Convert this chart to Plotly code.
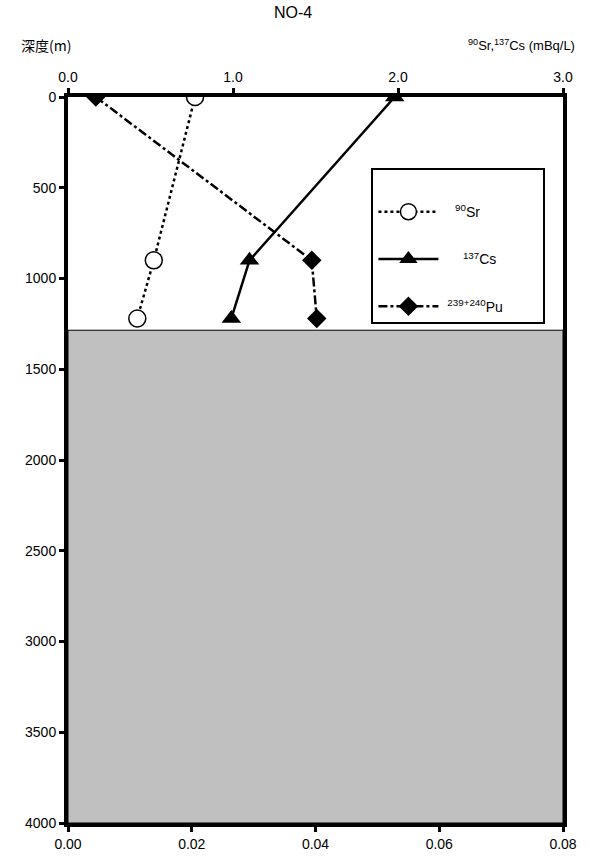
import plotly.graph_objects as go

# ---- data ----
depth = [0, 900, 1220]
sr90 = [0.77, 0.52, 0.42]          # mBq/L (top axis)
cs137 = [1.98, 1.10, 0.99]         # mBq/L (top axis)
pu_depth = [0, 900, 1220]
pu239 = [0.0045, 0.0394, 0.0402]   # mBq/L (bottom axis)
seafloor_depth = 1285
max_depth = 4000
top_ticks = [0, 1, 2, 3]
bottom_ticks = [0, 0.02, 0.04, 0.06, 0.08]
depth_ticks = list(range(0, 4001, 500))

FONT = "Liberation Sans, Arial, sans-serif"
JFONT = "Noto Sans CJK JP, sans-serif"
SP = "&nbsp;"

fig = go.Figure()

fig.add_trace(go.Scatter(
    x=sr90, y=depth, xaxis="x2", yaxis="y", mode="lines+markers",
    name=SP * 3 + "<sup>90</sup>Sr" + SP * 15, legendgroup="a",
    line=dict(color="black", width=2.5, dash="dot"),
    marker=dict(symbol="circle", size=17, color="white", line=dict(color="black", width=1.5)),
))
fig.add_trace(go.Scatter(
    x=cs137, y=depth, xaxis="x2", yaxis="y", mode="lines+markers",
    name=SP * 5 + "<sup>137</sup>Cs", legendgroup="b",
    line=dict(color="black", width=2.5),
    marker=dict(symbol="triangle-up", size=17, color="black"),
))
fig.add_trace(go.Scatter(
    x=pu239, y=pu_depth, xaxis="x", yaxis="y", mode="lines+markers",
    name=SP + "<sup>239+240</sup>Pu", legendgroup="c",
    line=dict(color="black", width=2.5, dash="dashdot"),
    marker=dict(symbol="diamond", size=15, color="black"),
))

fig.add_shape(type="rect", xref="x", yref="y", x0=bottom_ticks[0], x1=bottom_ticks[-1],
              y0=seafloor_depth, y1=max_depth, fillcolor="#c0c0c0",
              line=dict(color="black", width=1), layer="below")

fig.update_layout(
    width=589, height=866,
    margin=dict(l=68, r=20, t=97, b=43),
    paper_bgcolor="white", plot_bgcolor="white",
    font=dict(family=FONT, size=14, color="black"),
    showlegend=True,
    legend=dict(
        x=0.613, y=0.902, xanchor="left", yanchor="top",
        bordercolor="black", borderwidth=2, bgcolor="white",
        font=dict(family=FONT, size=14),
        tracegroupgap=26, itemwidth=60,
        title=dict(text=" ", font=dict(size=20)),
    ),
    xaxis=dict(
        range=[bottom_ticks[0], bottom_ticks[-1]], tickvals=bottom_ticks, tickformat=".2f",
        showline=True, linecolor="black", linewidth=4, showgrid=False, zeroline=False,
        ticks="outside", ticklen=5, tickwidth=3, tickcolor="black",
        side="bottom", tickfont=dict(size=14),
    ),
    xaxis2=dict(
        range=[top_ticks[0], top_ticks[-1]], tickvals=top_ticks, tickformat=".1f",
        overlaying="x", side="top", anchor="y",
        showline=True, linecolor="black", linewidth=4, showgrid=False, zeroline=False,
        ticks="outside", ticklen=5, tickwidth=3, tickcolor="black", tickfont=dict(size=14),
    ),
    yaxis=dict(
        range=[max_depth, 0], tickvals=depth_ticks,
        showline=True, mirror=True, linecolor="black", linewidth=4, showgrid=False, zeroline=False,
        ticks="outside", ticklen=5, tickwidth=3, tickcolor="black", tickfont=dict(size=14),
    ),
    annotations=[
        dict(text="NO-4", xref="paper", yref="paper", x=0.455, y=1, yshift=85, showarrow=False,
             font=dict(family=FONT, size=16), xanchor="center", yanchor="middle"),
        dict(text="深度(m)", xref="paper", yref="paper", x=0, y=1, xanchor="center",
             yanchor="middle", xshift=-22, yshift=52, showarrow=False,
             font=dict(family=JFONT, size=14)),
        dict(text="<sup>90</sup>Sr,<sup>137</sup>Cs (mBq/L)", xref="paper", yref="paper",
             x=1, y=1, xanchor="right", yanchor="middle", xshift=14, yshift=52, showarrow=False,
             font=dict(family=FONT, size=13)),
    ],
)

fig.write_html("out.html")
